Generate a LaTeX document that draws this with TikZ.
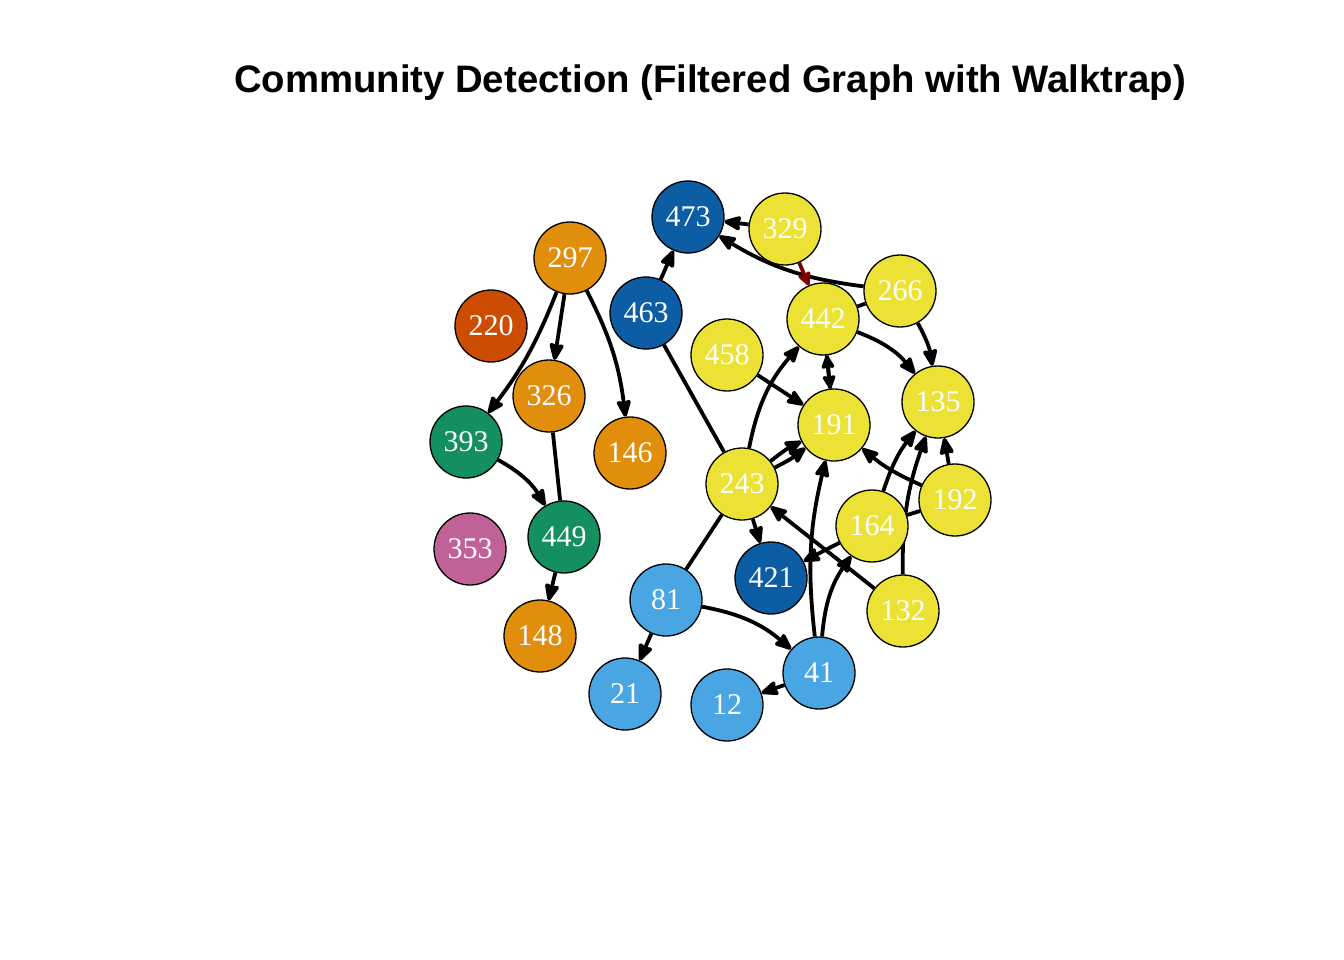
\documentclass[tikz,border=0pt]{standalone}
\usepackage{fontspec}
\setmainfont{Liberation Serif}
\newfontfamily\titlefont{Liberation Sans}
\usetikzlibrary{arrows.meta}
\definecolor{cyel}{RGB}{236,226,54}
\definecolor{corg}{RGB}{224,142,11}
\definecolor{cdblue}{RGB}{12,93,163}
\definecolor{clblue}{RGB}{74,165,227}
\definecolor{cgreen}{RGB}{20,143,95}
\definecolor{cred}{RGB}{204,76,2}
\definecolor{cpink}{RGB}{192,98,150}
\definecolor{cdarkred}{RGB}{128,0,0}
\pgfdeclarelayer{bg}
\pgfdeclarelayer{edges}
\pgfsetlayers{bg,edges,main}
\tikzset{
  vtx/.style={circle, draw=black, line width=1.3pt, minimum size=72pt, inner sep=0pt,
    text=white, font=\fontsize{30}{30}\selectfont},
  yel/.style={vtx, fill=cyel},
  org/.style={vtx, fill=corg},
  dbl/.style={vtx, fill=cdblue},
  lbl/.style={vtx, fill=clblue},
  grn/.style={vtx, fill=cgreen},
  link/.style={line width=3.8pt, draw=black, -{Stealth[length=20pt,width=16pt,inset=2pt,round]}},
  shortlink/.style={line width=3.8pt, draw=black, -{Stealth[length=16pt,width=15pt,inset=2pt,round]}},
  plain/.style={line width=3.8pt, draw=black},
}
\begin{document}
\begin{tikzpicture}[x=1pt,y=-1pt]
\begin{pgfonlayer}{bg}
\fill[white] (0,0) rectangle (1344,960);
\end{pgfonlayer}
\useasboundingbox (0,0) rectangle (1344,960);
\node[anchor=base] (title) at (710,93) {\titlefont\bfseries\fontsize{38.3}{40}\selectfont Community Detection (Filtered Graph with Walktrap)};
\node[dbl] (n473) at (688,217) {473};
\node[yel] (n329) at (785,229) {329};
\node[org] (n297) at (570,258) {297};
\node[dbl] (n463) at (646,313) {463};
\node[vtx, fill=cred] (n220) at (491,326) {220};
\node[yel] (n266) at (900,291) {266};
\node[yel] (n442) at (823,319) {442};
\node[yel] (n458) at (727,355) {458};
\node[org] (n326) at (549,396) {326};
\node[grn] (n393) at (466,442) {393};
\node[org] (n146) at (630,453) {146};
\node[yel] (n135) at (938,402) {135};
\node[yel] (n191) at (834,425) {191};
\node[yel] (n243) at (742,484) {243};
\node[yel] (n192) at (955,500) {192};
\node[yel] (n164) at (872,526) {164};
\node[vtx, fill=cpink] (n353) at (470,549) {353};
\node[grn] (n449) at (564,537) {449};
\node[dbl] (n421) at (771,578) {421};
\node[lbl] (n81) at (666,600) {81};
\node[yel] (n132) at (903,611) {132};
\node[org] (n148) at (540,636) {148};
\node[lbl] (n21) at (625,694) {21};
\node[lbl] (n12) at (727,705) {12};
\node[lbl] (n41) at (819,673) {41};
\begin{pgfonlayer}{edges}
\draw[link] (n297) to[bend left=8] (n393);
\draw[link] (n297) -- (n326);
\draw[link] (n297) to[bend left=10] (n146);
\draw[plain] (n326) -- (n449);
\draw[link] (n393) to[bend left=15] (n449);
\draw[link] (n449) -- (n148);
\draw[link] (n463) -- (n473);
\draw[plain] (n463) -- (n243);
\draw[link] (n329) -- (n473);
\draw[link] (n266) to[bend left=12] (n473);
\draw[shortlink, draw=cdarkred, fill=cdarkred] (n329) -- (n442);
\draw[plain] (n266) -- (n442);
\draw[link] (n266) to[bend left=10] (n135);
\draw[link] (n442) to[bend left=15] (n135);
\draw[shortlink] (n442) -- (n191);
\draw[shortlink] (n191) -- (n442);
\draw[link] (n458) -- (n191);
\draw[link] (n243) to[bend left=15] (n442);
\draw[link] (n243) to[bend left=6] (n191);
\draw[link] (n243) to[bend right=6] (n191);
\draw[link] (n41) to[bend left=10] (n191);
\draw[link] (n41) to[bend left=15] (n164);
\draw[link] (n164) -- (n421);
\draw[link] (n132) -- (n243);
\draw[link] (n243) -- (n421);
\draw[plain] (n243) -- (n81);
\draw[link] (n81) -- (n21);
\draw[link] (n81) to[bend left=15] (n41);
\draw[link] (n41) -- (n12);
\draw[link] (n164) to[bend left=10] (n135);
\draw[link] (n132) to[bend left=10] (n135);
\draw[link] (n192) -- (n135);
\draw[link] (n192) to[bend left=8] (n191);
\draw[plain] (n192) -- (n164);
\end{pgfonlayer}
\end{tikzpicture}
\end{document}
